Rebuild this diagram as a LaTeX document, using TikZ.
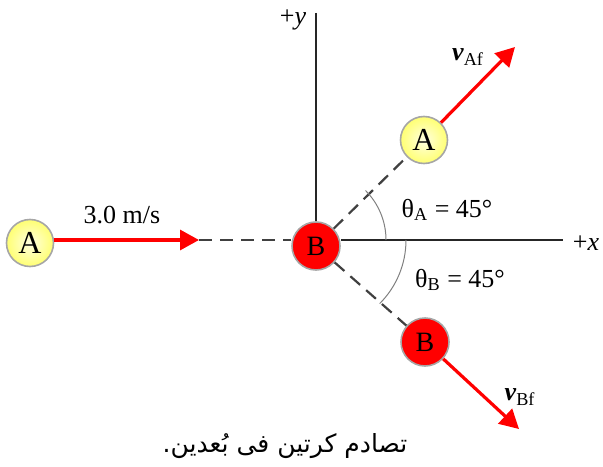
\documentclass[tikz,border=0pt]{standalone}
\usepackage{fontspec}
\setmainfont{Liberation Serif}
\newfontfamily\arabicfont[Script=Arabic]{DejaVu Sans}
\TeXXeTstate=1
\usetikzlibrary{arrows.meta}

\begin{document}
\begin{tikzpicture}[x=0.5pt, y=0.5pt,
    every node/.style={font=\fontsize{13}{15}\selectfont},
    balla/.style={circle, draw=gray!70, line width=0.8pt, inner color=yellow!12,
                  outer color=yellow!55, minimum size=23.5pt, inner sep=0pt,
                  font=\fontsize{16}{16}\selectfont},
    ballb/.style={circle, draw=gray!70, line width=0.8pt, fill=red,
                  minimum size=24pt, inner sep=0pt, font=\fontsize{14}{14}\selectfont},
    axis/.style={line width=1.1pt, black!85},
    guide/.style={line width=1.1pt, black!75, dash pattern=on 6.5pt off 4pt},
    anglearc/.style={line width=0.5pt, gray},
    vel/.style={red, line width=1.6pt, -{Triangle[length=9.5pt, width=10pt]}}
  ]
  \useasboundingbox (0,0) rectangle (603,466);

  % Axes
  \coordinate (O) at (316,226);
  \coordinate (yend) at (316,453);
  \coordinate (xend) at (563,226);
  \node (ylab) at (293,446) {+\textit{y}};
  \node (xlab) at (586,223) {+\textit{x}};

  % Balls
  \node[balla] (A1) at (30,223) {A};
  \node[ballb] (B) at (316,220) {B};
  \node[balla] (A2) at (424,326) {A};
  \node[ballb] (B2) at (425,124) {B};

  \draw[axis] (yend) -- (B);
  \draw[axis] (B.east |- O) -- (xend);

  % Before collision
  \coordinate (vtail) at (199,226);
  \draw[vel] (A1.east |- vtail) -- (vtail);
  \draw[guide] (vtail) -- (B.west |- O);
  \node (vi) at (122,251) {3.0 m/s};

  % After collision
  \draw[guide] (B) -- (A2);
  \draw[guide] (B) -- (B2);
  \coordinate (tipA) at (515,419);
  \coordinate (tipB) at (519,37);
  \draw[vel] (A2) -- (tipA);
  \draw[vel] (B2) -- (tipB);
  \node (vAf) at (468,409) {\textbf{\textit{v}}\textsubscript{Af}};
  \node (vBf) at (520,69) {\textbf{\textit{v}}\textsubscript{Bf}};

  % Angles
  \draw[anglearc] (386,226) arc (0:45:35pt);
  \draw[anglearc] (406,226) arc (0:-45:45pt);
  \node (thA) at (447,256) {θ\textsubscript{A} = 45°};
  \node (thB) at (460,186) {θ\textsubscript{B} = 45°};

  % Caption
  \node (cap) at (285,20) {\arabicfont\fontsize{12.5}{15}\selectfont\beginR تصادم كرتين فى بُعدين.\endR};

\end{tikzpicture}
\end{document}
